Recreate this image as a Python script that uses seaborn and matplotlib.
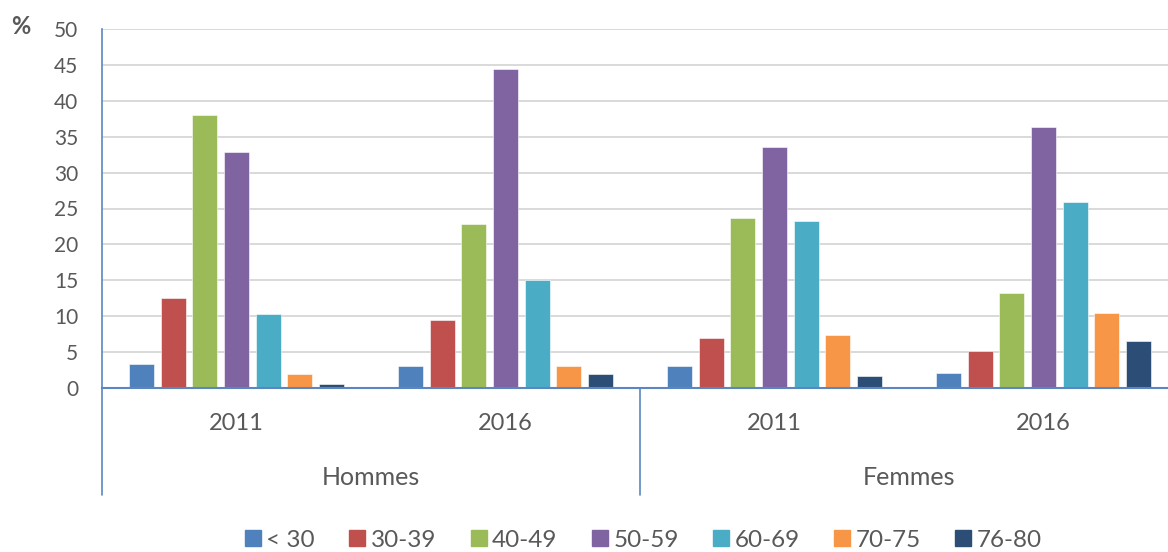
import pandas as pd
import matplotlib.pyplot as plt
import matplotlib.transforms as mtransforms
from matplotlib.lines import Line2D
import seaborn as sns

# ── Data ─────────────────────────────────────────────────────────────────────
ages = ["< 30", "30-39", "40-49", "50-59", "60-69", "70-75", "76-80"]
sexes = ["Hommes", "Femmes"]
years = ["2011", "2016"]

hommes_2011 = [3.4, 12.5, 38.0, 32.9, 10.3, 2.0, 0.6]
hommes_2016 = [3.0, 9.5, 22.9, 44.4, 15.0, 3.1, 1.9]
femmes_2011 = [3.0, 7.0, 23.7, 33.6, 23.2, 7.4, 1.7]
femmes_2016 = [2.1, 5.2, 13.2, 36.3, 25.9, 10.5, 6.5]

series = {
    ("Hommes", "2011"): hommes_2011,
    ("Hommes", "2016"): hommes_2016,
    ("Femmes", "2011"): femmes_2011,
    ("Femmes", "2016"): femmes_2016,
}

rows = []
for (sex, year), vals in series.items():
    for age, v in zip(ages, vals):
        rows.append({"groupe": f"{sex} {year}", "age": age, "pct": v})
df = pd.DataFrame(rows)
order = [f"{s} {y}" for s in sexes for y in years]

palette = ["#4F81BD", "#C0504D", "#9BBB59", "#8064A2",
           "#4BACC6", "#F79646", "#2C4D75"]
TXT = "#595959"
AXC = "#5B86C0"

# ── Style ────────────────────────────────────────────────────────────────────
sns.set_theme(style="white")
plt.rcParams["font.family"] = ["Lato", "DejaVu Sans"]

fig = plt.figure(figsize=(11.68, 5.52), dpi=100)
ax = fig.add_axes([102 / 1168, 1 - 388 / 552, 1 - 102 / 1168, 359 / 552])

sns.barplot(data=df, x="groupe", y="pct", hue="age", order=order,
            hue_order=ages, palette=palette, width=0.825, gap=0.21,
            edgecolor="white", linewidth=0.4, saturation=1, legend=False, ax=ax)

ax.set_xlim(-0.5, 3.463)
ax.set_ylim(0, 50)
ax.set_yticks(range(0, 51, 5))
ax.yaxis.grid(True, color="#D9D9D9", linewidth=1.4)
ax.set_axisbelow(True)
ax.tick_params(axis="y", length=0, pad=17, labelsize=15, labelcolor=TXT)
ax.tick_params(axis="x", length=0, labelbottom=False)
ax.set_xlabel("")
ax.set_ylabel("")

for side in ["top", "right"]:
    ax.spines[side].set_visible(False)
ax.spines["bottom"].set_color(AXC)
ax.spines["bottom"].set_linewidth(1.5)
ax.spines["left"].set_color(AXC)
ax.spines["left"].set_linewidth(1.2)

# multi-level category labels
trans = mtransforms.blended_transform_factory(ax.transData, ax.transAxes)
for i, grp in enumerate(order):
    ax.text(i, -0.099, grp.split()[1], transform=trans, ha="center",
            va="center", fontsize=17, color=TXT)
for j, sex in enumerate(sexes):
    ax.text(2 * j + 0.5, -0.25, sex, transform=trans, ha="center",
            va="center", fontsize=18, color=TXT)
for xb in [-0.5, 1.5, 3.5]:
    ax.add_line(Line2D([xb, xb], [0, -0.298], transform=trans, color=AXC,
                       linewidth=1.2, clip_on=False))

fig.text(21 / 1168, 1 - 27 / 552, "%", fontsize=17, fontweight="bold",
         color=TXT, ha="center", va="center")

handles = [Line2D([], [], marker="s", linestyle="none", markersize=11,
                  markerfacecolor=c, markeredgecolor=c) for c in palette]
fig.legend(handles, ages, loc="center", bbox_to_anchor=(642 / 1168, 1 - 540 / 552),
           ncol=7, frameon=False, fontsize=17.5, labelcolor=TXT,
           handletextpad=0.1, columnspacing=1.3, handlelength=0.9)

fig.savefig("out.png", dpi=100)
plt.close(fig)
